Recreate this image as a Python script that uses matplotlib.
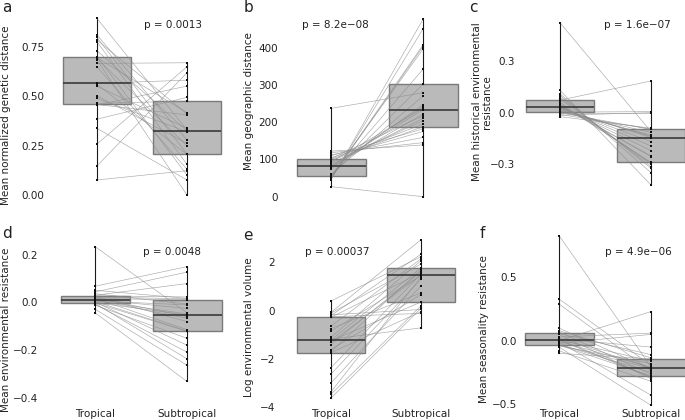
import matplotlib
matplotlib.use("Agg")
import matplotlib.pyplot as plt
import numpy as np

plt.rcParams['font.family'] = ['DejaVu Sans']

categories = ["Tropical", "Subtropical"]

# paired values (tropical[i] <-> subtropical[i])
a_trop = [0.893, 0.809, 0.797, 0.784, 0.775, 0.730, 0.70, 0.695, 0.691, 0.683, 0.666, 0.649, 0.565,
          0.56, 0.55, 0.502, 0.489, 0.464, 0.458, 0.455, 0.384, 0.337, 0.258, 0.147, 0.076]
a_sub = [0.329, 0.278, 0.208, 0.410, 0.155, 0.324, 0.101, 0.416, 0.249, 0.0, 0.669, 0.130, 0.581,
         0.205, 0.337, 0.261, 0.32, 0.475, 0.405, 0.551, 0.494, 0.076, 0.649, 0.619, 0.123]

b_trop = [27, 237, 45, 47, 50, 52, 54, 55, 57, 60, 75, 78, 80, 82, 85, 90, 93, 97, 100, 102, 105,
          110, 112, 118, 122]
b_sub = [0, 279, 476, 450, 403, 407, 396, 342, 302, 270, 246, 222, 241, 233, 210, 204, 237, 188,
         195, 217, 175, 182, 159, 145, 139]

c_trop = [0.522, 0.13, 0.11, 0.10, 0.09, 0.08, 0.073, 0.06, 0.05, 0.045, 0.04, 0.035, 0.031, 0.028,
          0.025, 0.02, 0.015, 0.01, 0.006, 0.003, 0.0, -0.005, -0.01, -0.015, -0.023]
c_sub = [-0.110, -0.42, -0.348, -0.323, -0.313, -0.30, 0.184, -0.293, -0.288, -0.255, -0.251, -0.22,
         -0.193, -0.168, -0.145, -0.139, -0.135, -0.130, -0.115, 0.006, -0.097, -0.004, -0.095, 0.0,
         -0.09]

d_trop = [0.234, 0.068, 0.051, 0.044, 0.037, 0.030, 0.028, 0.026, 0.023, 0.020, 0.017, 0.015, 0.012,
          0.010, 0.008, 0.006, 0.004, 0.002, -0.001, -0.002, -0.004, -0.008, -0.011, -0.028, -0.043]
d_sub = [-0.043, 0.150, 0.017, 0.127, -0.007, 0.079, 0.023, -0.080, 0.015, -0.059, -0.114, 0.012,
         -0.025, -0.066, -0.048, -0.010, -0.119, -0.179, -0.052, -0.121, -0.236, -0.208, -0.150,
         -0.263, -0.331]

e_trop = [0.40, -0.07, -0.10, -0.17, -0.20, -0.25, -0.27, -0.64, -0.74, -0.85, -1.09, -1.18, -1.21,
          -1.25, -1.30, -1.40, -1.61, -1.69, -1.74, -2.36, -2.62, -2.99, -3.36, -3.46, -3.62]
e_sub = [2.24, 2.94, 1.93, 0.05, 2.34, -0.11, 1.57, 2.15, 0.74, 1.46, 2.07, -0.71, 1.77, 0.36, 1.48,
         1.62, 0.67, 1.70, -0.04, 1.52, 1.30, 1.03, 1.40, 0.20, 0.10]

f_trop = [0.83, 0.33, 0.29, 0.10, 0.08, 0.07, 0.057, 0.05, 0.03, 0.02, 0.015, 0.01, 0.008, 0.005, 0.0,
          -0.005, -0.01, -0.02, -0.03, -0.032, -0.035, -0.04, -0.05, -0.08, -0.10]
f_sub = [-0.205, -0.195, -0.24, -0.225, -0.135, -0.265, -0.11, -0.30, 0.06, -0.213, -0.05, -0.285,
         -0.16, -0.29, 0.23, -0.21, -0.43, 0.05, -0.25, -0.22, -0.278, -0.18, -0.51, -0.32, -0.143]

letters = ["a", "b", "c", "d", "e", "f"]
ylabels = ["Mean normalized genetic distance", "Mean geographic distance",
           "Mean historical environmental\nresistance", "Mean environmental resistance",
           "Log environmental volume", "Mean seasonality resistance"]
pvals = ["p = 0.0013", "p = 8.2e\u221208", "p = 1.6e\u221207", "p = 0.0048", "p = 0.00037",
         "p = 4.9e\u221206"]
yticks = [[0.00, 0.25, 0.50, 0.75], [0, 100, 200, 300, 400], [-0.3, 0.0, 0.3],
          [-0.4, -0.2, 0.0, 0.2], [-4, -2, 0, 2], [-0.5, 0.0, 0.5]]
ytickfmt = ["{:.2f}", "{:.0f}", "{:.1f}", "{:.1f}", "{:.0f}", "{:.1f}"]
ylims = [(-0.0506, 0.936), (-22.3, 501), (-0.536, 0.596),
         (-0.442, 0.295), (-4.03, 3.26), (-0.531, 0.858)]

data = [(a_trop, a_sub), (b_trop, b_sub), (c_trop, c_sub),
        (d_trop, d_sub), (e_trop, e_sub), (f_trop, f_sub)]

W, H = 685, 420
fig = plt.figure(figsize=(6.85, 4.2), dpi=100)

# layout in pixels
lefts = [47, 281, 518, 41, 278, 520]          # axes left edges
centers = [(97, 187), (331, 423), (560, 651), (95, 187), (331, 421), (559, 651)]
tops = [10, 10, 10, 232, 232, 232]
bots = [205, 205, 205, 408, 408, 408]
letter_pos = [(2, 8), (244, 7), (469, 7), (2, 234), (243, 236), (480, 233)]
p_pos = [(173, 25), (335, 25), (637, 25), (172, 252), (337, 252), (638, 252)]
ylab_pos = [(6, 115), (249, 101), (482, 102), (6, 330), (249, 327), (484, 329)]

for k in range(6):
    l, t, b = lefts[k], tops[k], bots[k]
    c0, c1 = centers[k]
    s = c1 - c0
    r = c1 + 0.5 * s
    axw = r - l
    ax = fig.add_axes([l / W, 1 - b / H, axw / W, (b - t) / H])
    trop, sub = data[k]
    trop = np.array(trop, float)
    sub = np.array(sub, float)
    # paired lines
    for y0, y1 in zip(trop, sub):
        ax.plot([0, 1], [y0, y1], color="#8c8c8c", lw=0.45, alpha=0.75, zorder=3)
    bp = ax.boxplot([trop, sub], positions=[0, 1], widths=0.75, whis=(0, 100),
                    patch_artist=True, showfliers=False, showcaps=False,
                    medianprops=dict(color="#3a3a3a", lw=1.2),
                    boxprops=dict(facecolor="#bababa", edgecolor="#7a7a7a", lw=1.0),
                    whiskerprops=dict(color="#1a1a1a", lw=0.8), zorder=2)
    for med in bp["medians"]:
        med.set_zorder(4)
    ax.scatter(np.zeros(len(trop)), trop, s=3, color="#111111", marker="s", lw=0, zorder=5)
    ax.scatter(np.ones(len(sub)), sub, s=3, color="#111111", marker="s", lw=0, zorder=5)
    ax.set_xlim(-(c0 - l) / s, 1.5)
    ax.set_ylim(*ylims[k])
    ax.set_yticks(yticks[k])
    ax.set_yticklabels([ytickfmt[k].format(v).replace("-", "\u2212") for v in yticks[k]])
    ax.tick_params(axis="y", length=0, pad=2, labelsize=7.5, colors="#222222")
    if k >= 3:
        ax.set_xticks([0, 1])
        ax.set_xticklabels(categories)
        ax.tick_params(axis="x", length=0, pad=1, labelsize=7.5, colors="#222222")
    else:
        ax.set_xticks([])
    for sp in ax.spines.values():
        sp.set_visible(False)
    ax.set_facecolor("none")
    fig.text(ylab_pos[k][0] / W, 1 - ylab_pos[k][1] / H, ylabels[k], rotation=90,
             ha="center", va="center", multialignment="center", fontsize=7.5,
             color="#222222", linespacing=1.1)
    ax.text((p_pos[k][0] - l) / axw, 1 - (p_pos[k][1] - t) / (b - t), pvals[k],
            transform=ax.transAxes, ha="center", va="center", fontsize=7.5, color="#222222")
    fig.text(letter_pos[k][0] / W, 1 - letter_pos[k][1] / H, letters[k], fontsize=11,
             ha="left", va="center", color="#222222")

fig.savefig("out.png", dpi=100)
